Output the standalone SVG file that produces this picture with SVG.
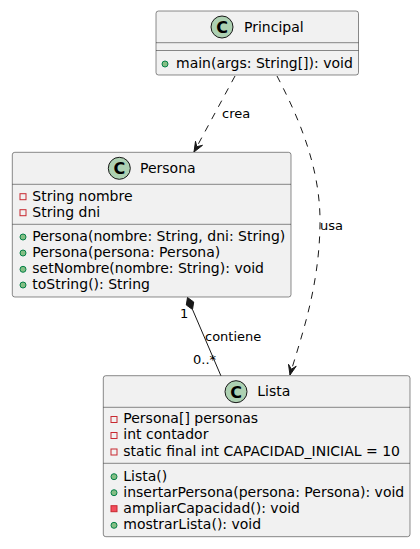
<svg xmlns="http://www.w3.org/2000/svg" width="420" height="549" viewBox="0 0 420 549">
<defs>
<style>
.box{fill:#F1F1F1;stroke:#181818;stroke-width:0.5}
.sep{stroke:#181818;stroke-width:0.5}
.spot{fill:#ADD1B2;stroke:#181818;stroke-width:1}
.spotc{font-family:"DejaVu Sans",sans-serif;font-size:16px;font-weight:bold;fill:#000;text-anchor:middle}
.t{font-family:"DejaVu Sans",sans-serif;font-size:14px;fill:#000}
.lbl{font-family:"DejaVu Sans",sans-serif;font-size:13px;fill:#000}
.pub{fill:#84BE84;stroke:#038048;stroke-width:1}
.priv{fill:none;stroke:#C82930;stroke-width:1}
.privm{fill:#F24D5C;stroke:#C82930;stroke-width:1}
.edge{fill:none;stroke:#181818;stroke-width:1}
.dash{stroke-dasharray:7,7}
.head{fill:#181818;stroke:#181818;stroke-width:1}
</style>
</defs>
<g id="connectors">
<path class="edge dash" d="M235,76 L194,152"/>
<polygon class="head" points="194,152 195.5,141.3 196.8,146.7 202.5,145.3"/>
<text class="lbl" x="222" y="118">crea</text>
<path class="edge dash" d="M277,76 C300,120 321,170 320,225 C319,290 300,340 290,375"/>
<polygon class="head" points="290,375 288.5,364.3 291.4,369.2 296.2,366.2"/>
<text class="lbl" x="320" y="230">usa</text>
<path class="edge" d="M192.5,309.5 L221,376"/>
<polygon class="head" points="187.5,297.5 193.7,302 192.5,309.5 186.3,305"/>
<text class="lbl" x="180" y="318">1</text>
<text class="lbl" x="205" y="341">contiene</text>
<text class="lbl" x="193" y="364">0..*</text>
</g>
<g id="Principal">
<rect class="box" x="156" y="11" width="202.5" height="64" rx="2.5"/>
<circle class="spot" cx="222" cy="27" r="11"/>
<text class="spotc" x="222" y="32.8">C</text>
<text class="t" x="244" y="32.3">Principal</text>
<line class="sep" x1="156" y1="42.7" x2="358.5" y2="42.7"/>
<line class="sep" x1="156" y1="50.5" x2="358.5" y2="50.5"/>
<circle class="pub" cx="165" cy="64" r="3"/>
<text class="t" x="176" y="68">main(args: String[]): void</text>
</g>
<g id="Persona">
<rect class="box" x="12.3" y="152.3" width="278.7" height="144.7" rx="2.5"/>
<circle class="spot" cx="119.3" cy="168.3" r="11"/>
<text class="spotc" x="119.3" y="174.1">C</text>
<text class="t" x="140" y="172.5">Persona</text>
<line class="sep" x1="12.3" y1="184.3" x2="291" y2="184.3"/>
<rect class="priv" x="20" y="193.7" width="6" height="6"/>
<text class="t" x="32.3" y="200.7">String nombre</text>
<rect class="priv" x="20" y="209.7" width="6" height="6"/>
<text class="t" x="32.3" y="216.7">String dni</text>
<line class="sep" x1="12.3" y1="224.3" x2="291" y2="224.3"/>
<circle class="pub" cx="23" cy="237" r="3"/>
<text class="t" x="32.3" y="241">Persona(nombre: String, dni: String)</text>
<circle class="pub" cx="23" cy="253" r="3"/>
<text class="t" x="32.3" y="257">Persona(persona: Persona)</text>
<circle class="pub" cx="23" cy="269.3" r="3"/>
<text class="t" x="32.3" y="273.3">setNombre(nombre: String): void</text>
<circle class="pub" cx="23" cy="285" r="3"/>
<text class="t" x="32.3" y="289">toString(): String</text>
</g>
<g id="Lista">
<rect class="box" x="103.3" y="375.7" width="306.7" height="161" rx="2.5"/>
<circle class="spot" cx="236" cy="391.7" r="11"/>
<text class="spotc" x="236" y="397.5">C</text>
<text class="t" x="257.3" y="396">Lista</text>
<line class="sep" x1="103.3" y1="407.3" x2="410" y2="407.3"/>
<rect class="priv" x="111" y="416.5" width="6" height="6"/>
<text class="t" x="123.3" y="423.3">Persona[] personas</text>
<rect class="priv" x="111" y="432.5" width="6" height="6"/>
<text class="t" x="123.3" y="439.3">int contador</text>
<rect class="priv" x="111" y="449" width="6" height="6"/>
<text class="t" x="123.3" y="456">static final int CAPACIDAD_INICIAL = 10</text>
<line class="sep" x1="103.3" y1="463.3" x2="410" y2="463.3"/>
<circle class="pub" cx="114" cy="476.7" r="3"/>
<text class="t" x="123.3" y="480.7">Lista()</text>
<circle class="pub" cx="114" cy="492.7" r="3"/>
<text class="t" x="123.3" y="496.7">insertarPersona(persona: Persona): void</text>
<rect class="privm" x="111" y="505.7" width="6" height="6"/>
<text class="t" x="123.3" y="512.7">ampliarCapacidad(): void</text>
<circle class="pub" cx="114" cy="525.3" r="3"/>
<text class="t" x="123.3" y="529.3">mostrarLista(): void</text>
</g>
</svg>
